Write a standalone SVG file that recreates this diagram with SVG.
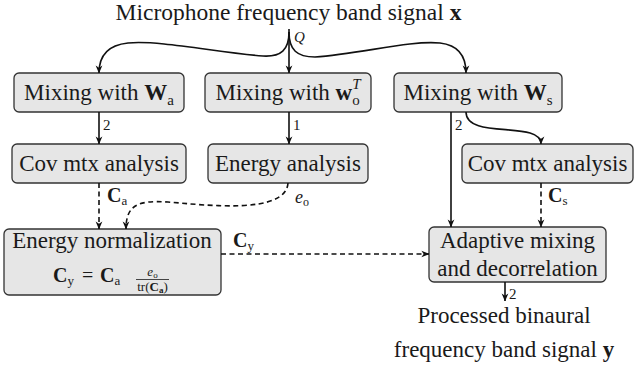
<svg xmlns="http://www.w3.org/2000/svg" width="634" height="367" viewBox="0 0 634 367" font-family="'Liberation Serif', 'Times New Roman', Times, serif">
  <style>
    .box { fill: #e6e6e6; stroke: #333; stroke-width: 1.3; }
    .t { font-size: 23px; fill: #1a1a1a; }
    .lab { font-size: 15px; fill: #1a1a1a; }
    .m { fill: #1a1a1a; }
    .b { font-weight: bold; }
    .i { font-style: italic; }
    .w { fill: none; stroke: #111; stroke-width: 1.6; }
    .d { stroke-dasharray: 5 3.5; }
  </style>
  <defs>
    <marker id="ah" viewBox="0 0 10 10" refX="9.5" refY="5" markerWidth="8" markerHeight="8" markerUnits="userSpaceOnUse" orient="auto">
      <path d="M0,0.8 L10,5 L0,9.2 L2.8,5 Z" fill="#111"/>
    </marker>
  </defs>

  <!-- input signal -->
  <text class="t" x="288.5" y="20" text-anchor="middle" font-size="23.5" style="font-size:23.5px">Microphone frequency band signal <tspan class="b">x</tspan></text>

  <!-- nodes -->
  <g id="mix-a">
    <rect class="box" x="14" y="73" width="170" height="39" rx="5"/>
    <text class="t" x="99" y="100" text-anchor="middle">Mixing with <tspan class="b">W</tspan><tspan font-size="15" dy="5">a</tspan></text>
  </g>
  <g id="mix-o">
    <rect class="box" x="205" y="73" width="166" height="39" rx="5"/>
    <text class="t" x="288" y="100" text-anchor="middle">Mixing with <tspan class="b">w</tspan><tspan font-size="15" dy="5">o</tspan><tspan font-size="15" class="i" dx="-7.5" dy="-16">T</tspan></text>
  </g>
  <g id="mix-s">
    <rect class="box" x="394" y="73" width="168" height="39" rx="5"/>
    <text class="t" x="478" y="100" text-anchor="middle">Mixing with <tspan class="b">W</tspan><tspan font-size="15" dy="5">s</tspan></text>
  </g>
  <g id="cov-a">
    <rect class="box" x="12" y="144" width="174" height="39" rx="5"/>
    <text class="t" x="99" y="171" text-anchor="middle">Cov mtx analysis</text>
  </g>
  <g id="energy">
    <rect class="box" x="208" y="144" width="160" height="39" rx="5"/>
    <text class="t" x="288" y="171" text-anchor="middle">Energy analysis</text>
  </g>
  <g id="cov-s">
    <rect class="box" x="462" y="144" width="171" height="39" rx="5"/>
    <text class="t" x="547.5" y="171" text-anchor="middle">Cov mtx analysis</text>
  </g>
  <g id="norm">
    <rect class="box" x="4" y="229" width="217" height="66" rx="5"/>
    <text class="t" x="112" y="248" text-anchor="middle">Energy normalization</text>
    <text class="m b" x="53" y="282" font-size="20">C<tspan font-size="13" font-weight="normal" dy="3">y</tspan></text>
    <text class="m" x="82" y="282" font-size="20">=</text>
    <text class="m b" x="100" y="282" font-size="20">C<tspan font-size="13" font-weight="normal" dy="3">a</tspan></text>
    <text class="m i" x="152.5" y="276" font-size="13" text-anchor="middle">e<tspan font-size="9" font-style="normal" dy="2">o</tspan></text>
    <line x1="136" y1="279.5" x2="169" y2="279.5" stroke="#1a1a1a" stroke-width="0.8"/>
    <text class="m" x="152.5" y="291" font-size="13" text-anchor="middle">tr(<tspan class="b">C</tspan><tspan class="b" font-size="9" dy="2">a</tspan><tspan dy="-2">)</tspan></text>
  </g>
  <g id="adaptive">
    <rect class="box" x="429" y="227" width="177" height="55" rx="5"/>
    <text class="t" x="517.5" y="248" text-anchor="middle">Adaptive mixing</text>
    <text class="t" x="517.5" y="276" text-anchor="middle">and decorrelation</text>
  </g>

  <!-- output signal -->
  <text class="t" x="504" y="323" text-anchor="middle">Processed binaural</text>
  <text class="t" x="504" y="357" text-anchor="middle">frequency band signal <tspan class="b">y</tspan></text>

  <!-- connectors -->
  <g id="connectors">
    <path class="w" d="M289,29 L289,73" marker-end="url(#ah)"/>
    <path class="w" d="M289,32 C289,50 281,57 263,56 C220,53 160,40 128,43 C108,45 99,55 99,73" marker-end="url(#ah)"/>
    <path class="w" d="M289,32 C289,50 297,57 315,57 C360,54 410,40 440,43 C458,45 466,55 466,73" marker-end="url(#ah)"/>
    <text class="lab i" x="294" y="42">Q</text>

    <path class="w" d="M99,112 L99,144" marker-end="url(#ah)"/>
    <text class="lab" x="103" y="130">2</text>
    <path class="w" d="M289,112 L289,144" marker-end="url(#ah)"/>
    <text class="lab" x="293" y="130">1</text>
    <path class="w" d="M451,112 L451,227" marker-end="url(#ah)"/>
    <text class="lab" x="455" y="130">2</text>
    <path class="w" d="M466,112 C466,140 541,120 541,144" marker-end="url(#ah)"/>

    <path class="w d" d="M99,183 L99,229" marker-end="url(#ah)"/>
    <text class="m b" x="107" y="202" font-size="20">C<tspan font-size="13" font-weight="normal" dy="3">a</tspan></text>
    <path class="w d" d="M288,183 C286,215 205,205 168,202 C138,200 126,205 126,229" marker-end="url(#ah)"/>
    <text class="m i" x="295" y="203" font-size="18">e<tspan font-size="12" font-style="normal" dy="3">o</tspan></text>

    <path class="w d" d="M541,183 L541,227" marker-end="url(#ah)"/>
    <text class="m b" x="548" y="202" font-size="20">C<tspan font-size="13" font-weight="normal" dy="3">s</tspan></text>

    <path class="w d" d="M221,254 L429,254" marker-end="url(#ah)"/>
    <text class="m b" x="233" y="247" font-size="20">C<tspan font-size="13" font-weight="normal" dy="3">y</tspan></text>

    <path class="w" d="M505,282 L505,301" marker-end="url(#ah)"/>
    <text class="lab" x="509" y="299">2</text>
  </g>
</svg>
